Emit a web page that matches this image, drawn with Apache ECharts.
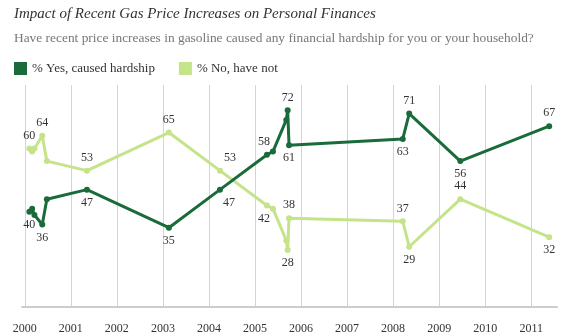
<!DOCTYPE html>
<html>
<head>
<meta charset="utf-8">
<script src="https://cdn.jsdelivr.net/npm/echarts@6/dist/echarts.min.js"></script>
<style>
  html, body { margin: 0; padding: 0; background: #fff; }
  #chart { width: 564px; height: 335px; }
</style>
</head>
<body>
<div id="chart"></div>
<script>
// Survey dates (decimal years) and results
const surveyDates = [2000.10, 2000.16, 2000.21, 2000.38, 2000.48, 2001.35, 2003.13, 2004.24,
  2005.26, 2005.39, 2005.68, 2005.71, 2005.74, 2008.21, 2008.35, 2009.46, 2011.39];
const yesHardship = [40, 41, 39, 36, 44, 47, 35, 47, 58, 59, 69, 72, 61, 63, 71, 56, 67];
const noHardship  = [60, 59, 60, 64, 56, 53, 65, 53, 42, 41, 31, 28, 38, 37, 29, 44, 32];
const yearTicks = [2000, 2001, 2002, 2003, 2004, 2005, 2006, 2007, 2008, 2009, 2010, 2011];

// Which points carry a value label, and where it sits
const yesLabels = { 0: 'bottom', 3: 'bottom', 5: 'bottom', 6: 'bottom', 7: 'bottomRight',
  8: 'topLeft', 11: 'top', 12: 'bottom', 13: 'bottom', 14: 'top', 15: 'bottom', 16: 'top' };
const noLabels = { 0: 'top', 3: 'top', 5: 'top', 6: 'top', 7: 'topRight',
  8: 'bottomLeft', 11: 'bottom', 12: 'top', 13: 'top', 14: 'bottom', 15: 'top', 16: 'bottom' };

const SERIF = '"Liberation Serif", "DejaVu Serif", serif';
const DARK = '#1a6b3a';
const LIGHT = '#c5e389';

function labelFor(pos) {
  const base = { show: true, color: '#333', fontFamily: SERIF, fontSize: 12, distance: 4 };
  if (pos === 'bottomRight') return Object.assign(base, { position: 'bottom', offset: [9, 0] });
  if (pos === 'topRight') return Object.assign(base, { position: 'top', offset: [10, 0] });
  if (pos === 'topLeft') return Object.assign(base, { position: 'top', offset: [-3, 0] });
  if (pos === 'bottomLeft') return Object.assign(base, { position: 'bottom', offset: [-3, 0] });
  return Object.assign(base, { position: pos });
}

function buildData(values, labels) {
  return values.map((v, i) => {
    const item = { value: [surveyDates[i], v] };
    if (labels[i]) item.label = labelFor(labels[i]);
    return item;
  });
}

const chart = echarts.init(document.getElementById('chart'), null, { renderer: 'canvas' });
chart.setOption({
  animation: false,
  backgroundColor: '#fff',
  title: [
    { text: 'Impact of Recent Gas Price Increases on Personal Finances', left: 9, top: 2,
      textStyle: { fontFamily: SERIF, fontStyle: 'italic', fontWeight: 'normal', fontSize: 15, color: '#333' } },
    { text: 'Have recent price increases in gasoline caused any financial hardship for you or your household?',
      left: 9, top: 27,
      textStyle: { fontFamily: SERIF, fontWeight: 'normal', fontSize: 13.4, color: '#777' } }
  ],
  legend: {
    left: 9, top: 57, icon: 'rect', itemWidth: 13, itemHeight: 13, itemGap: 24,
    textStyle: { fontFamily: SERIF, fontSize: 13, color: '#333' },
    data: ['% Yes, caused hardship', '% No, have not']
  },
  grid: { left: 22, right: 7, top: 85, bottom: 27, containLabel: false },
  xAxis: {
    type: 'value', min: 1999.94, max: 2011.56,
    axisLine: { show: true, lineStyle: { color: '#ccc', width: 2 } },
    axisTick: { show: false, customValues: yearTicks },
    axisLabel: { customValues: yearTicks, formatter: v => String(v), margin: 16,
      fontFamily: SERIF, fontSize: 12, color: '#333' },
    splitLine: { show: true, lineStyle: { color: '#d4d4d4', width: 1 } }
  },
  yAxis: {
    type: 'value', min: 10, max: 80,
    show: false,
    splitLine: { show: false }
  },
  series: [
    { name: '% Yes, caused hardship', type: 'line', data: buildData(yesHardship, yesLabels),
      symbol: 'circle', symbolSize: 6, color: DARK,
      lineStyle: { width: 3, color: DARK }, itemStyle: { color: DARK }, z: 3 },
    { name: '% No, have not', type: 'line', data: buildData(noHardship, noLabels),
      symbol: 'circle', symbolSize: 6, color: LIGHT,
      lineStyle: { width: 3, color: LIGHT }, itemStyle: { color: LIGHT }, z: 2 }
  ]
});
</script>
</body>
</html>
